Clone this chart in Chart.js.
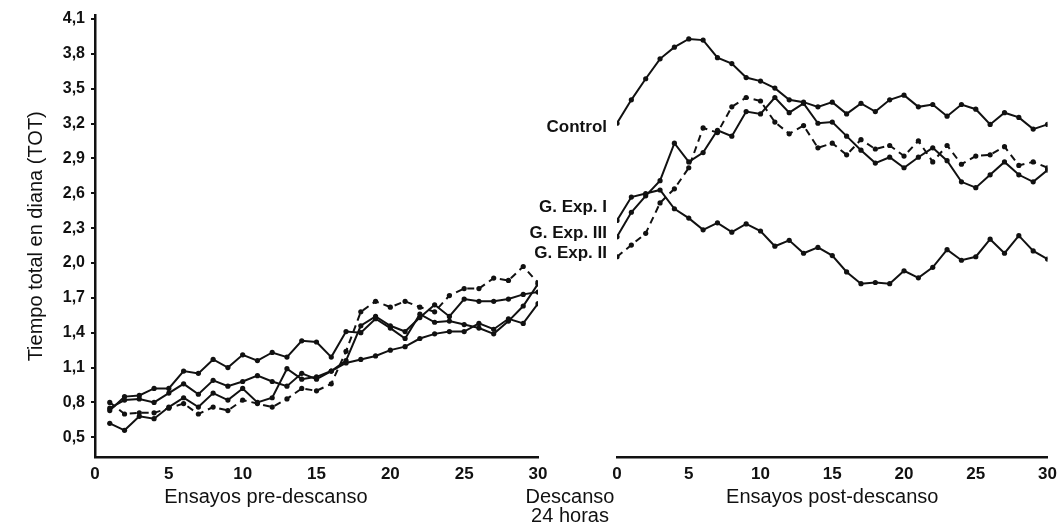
<!DOCTYPE html>
<html>
<head>
<meta charset="utf-8">
<script src="https://cdn.jsdelivr.net/npm/chart.js"></script>
<style>
  html, body { margin: 0; padding: 0; background: #fff; }
  #wrap { position: relative; width: 1064px; height: 530px; overflow: hidden; }
  .panel { position: absolute; top: 0; }
  #pre { left: 0; }
  #post { left: 470px; }
</style>
</head>
<body>
<div id="wrap">
  <canvas class="panel" id="pre" width="560" height="530"></canvas>
  <canvas class="panel" id="post" width="594" height="530"></canvas>
</div>
<script>
// trials (x) and axis ticks
const preTrials = [1, 2, 3, 4, 5, 6, 7, 8, 9, 10, 11, 12, 13, 14, 15, 16, 17, 18, 19, 20, 21, 22, 23, 24, 25, 26, 27, 28, 29, 30];
const postTrials = [0, 1, 2, 3, 4, 5, 6, 7, 8, 9, 10, 11, 12, 13, 14, 15, 16, 17, 18, 19, 20, 21, 22, 23, 24, 25, 26, 27, 28, 29, 30];
const xTicks = [0, 5, 10, 15, 20, 25, 30];
const yTicks = [0.5, 0.8, 1.1, 1.4, 1.7, 2.0, 2.3, 2.6, 2.9, 3.2, 3.5, 3.8, 4.1];

// TOT values, pre-rest
const preControl = [0.73, 0.85, 0.86, 0.92, 0.92, 1.07, 1.05, 1.17, 1.10, 1.21, 1.16, 1.23, 1.19, 1.33, 1.32, 1.19, 1.41, 1.40, 1.52, 1.44, 1.35, 1.56, 1.49, 1.50, 1.47, 1.44, 1.39, 1.50, 1.63, 1.82];
const preExpI = [0.75, 0.82, 0.83, 0.80, 0.88, 0.96, 0.87, 0.99, 0.94, 0.98, 1.03, 0.98, 0.94, 1.05, 1.00, 1.07, 1.16, 1.46, 1.54, 1.46, 1.41, 1.53, 1.64, 1.54, 1.69, 1.67, 1.67, 1.69, 1.73, 1.75];
const preExpII = [0.80, 0.70, 0.71, 0.71, 0.75, 0.79, 0.70, 0.76, 0.73, 0.82, 0.79, 0.76, 0.83, 0.92, 0.90, 0.96, 1.24, 1.58, 1.67, 1.62, 1.67, 1.62, 1.58, 1.72, 1.78, 1.78, 1.87, 1.85, 1.97, 1.83];
const preExpIII = [0.62, 0.56, 0.68, 0.66, 0.76, 0.84, 0.76, 0.88, 0.82, 0.92, 0.80, 0.84, 1.09, 1.00, 1.02, 1.07, 1.14, 1.17, 1.20, 1.25, 1.28, 1.35, 1.39, 1.41, 1.41, 1.48, 1.43, 1.52, 1.48, 1.65];

// TOT values, post-rest
const postControl = [3.18, 3.38, 3.56, 3.73, 3.83, 3.90, 3.89, 3.74, 3.69, 3.57, 3.54, 3.48, 3.38, 3.36, 3.32, 3.36, 3.26, 3.35, 3.28, 3.38, 3.42, 3.32, 3.34, 3.24, 3.34, 3.30, 3.17, 3.27, 3.23, 3.13, 3.17];
const postExpI = [2.35, 2.55, 2.58, 2.61, 2.45, 2.37, 2.27, 2.33, 2.25, 2.32, 2.26, 2.13, 2.18, 2.07, 2.12, 2.05, 1.91, 1.81, 1.82, 1.81, 1.92, 1.86, 1.95, 2.10, 2.01, 2.04, 2.19, 2.07, 2.22, 2.09, 2.02];
const postExpII = [2.04, 2.14, 2.24, 2.50, 2.62, 2.80, 3.14, 3.10, 3.32, 3.40, 3.37, 3.19, 3.09, 3.16, 2.97, 3.01, 2.91, 3.04, 2.96, 2.99, 2.90, 3.03, 2.85, 2.99, 2.83, 2.90, 2.91, 2.98, 2.82, 2.85, 2.80];
const postExpIII = [2.21, 2.42, 2.56, 2.69, 3.01, 2.85, 2.93, 3.12, 3.07, 3.28, 3.26, 3.40, 3.27, 3.35, 3.18, 3.19, 3.07, 2.95, 2.84, 2.89, 2.80, 2.89, 2.97, 2.86, 2.68, 2.63, 2.74, 2.85, 2.74, 2.68, 2.78];

const INK = '#111';
const FONT = "'Liberation Sans', Arial, Helvetica, sans-serif";

function toPoints(xs, ys) {
  return ys.map((v, i) => ({ x: xs[i], y: v }));
}

function makeDataset(label, xs, ys, dashed, tag) {
  return {
    label: label,
    tag: tag,
    data: toPoints(xs, ys),
    borderColor: INK,
    backgroundColor: INK,
    borderWidth: 2,
    borderDash: dashed ? [7, 5] : [],
    pointRadius: 2.6,
    pointBorderWidth: 0,
    pointBackgroundColor: INK,
    tension: 0,
    fill: false
  };
}

// free text drawn on the canvas (axis captions, series labels)
const textPlugin = {
  id: 'panelText',
  afterDraw(chart, args, opts) {
    const ctx = chart.ctx;
    const area = chart.chartArea;
    const yScale = chart.scales.y;
    ctx.save();
    ctx.fillStyle = INK;
    ctx.textBaseline = 'middle';
    (opts.items || []).forEach(t => {
      ctx.font = t.font;
      ctx.textAlign = t.align || 'center';
      ctx.fillText(t.text, t.x, t.y);
    });
    if (opts.seriesLabels) {
      chart.data.datasets.forEach(ds => {
        if (!ds.tag) return;
        const y = yScale.getPixelForValue(ds.data[0].y) + ds.tag.dy;
        ctx.font = 'bold 17px ' + FONT;
        ctx.textAlign = 'right';
        ctx.fillText(ds.tag.text, area.left - 10, y);
      });
    }
    ctx.restore();
  }
};

function yScaleOptions(show) {
  return {
    type: 'linear',
    display: show,
    min: 0.33,
    max: 4.13,
    afterBuildTicks: s => { s.ticks = yTicks.map(v => ({ value: v })); },
    ticks: {
      color: INK,
      padding: 6,
      font: { family: FONT, size: 16, weight: 'bold' },
      callback: v => v.toFixed(1).replace('.', ',')
    },
    grid: { display: true, drawOnChartArea: false, drawTicks: true, tickLength: 4, color: INK, lineWidth: 2 },
    border: { display: true, color: INK, width: 2.5 },
    title: {
      display: true,
      text: 'Tiempo total en diana (TOT)',
      color: INK,
      font: { family: FONT, size: 20 },
      padding: { top: 24, bottom: 0 }
    },
    afterFit: s => { s.width = show ? 95 : 0; }
  };
}

function xScaleOptions(title) {
  return {
    type: 'linear',
    min: 0,
    max: 30,
    afterBuildTicks: s => { s.ticks = xTicks.map(v => ({ value: v })); },
    ticks: { color: INK, padding: 7, font: { family: FONT, size: 17, weight: 'bold' } },
    grid: { display: false, drawTicks: false },
    border: { display: true, color: INK, width: 2.5 },
    title: title ? {
      display: true,
      text: title,
      color: INK,
      font: { family: FONT, size: 20 },
      padding: { top: 0, bottom: 21 }
    } : { display: false },
    afterFit: s => { s.height = 73; }
  };
}

const baseOptions = {
  responsive: false,
  animation: false,
  plugins: { legend: { display: false }, tooltip: { enabled: false } }
};

new Chart(document.getElementById('pre'), {
  type: 'line',
  data: {
    datasets: [
      makeDataset('Control', preTrials, preControl, false),
      makeDataset('G. Exp. I', preTrials, preExpI, false),
      makeDataset('G. Exp. III', preTrials, preExpIII, false),
      makeDataset('G. Exp. II', preTrials, preExpII, true)
    ]
  },
  options: {
    ...baseOptions,
    layout: { padding: { top: 12, right: 22, left: 0, bottom: 0 } },
    scales: { x: xScaleOptions(null), y: yScaleOptions(true) },
    plugins: {
      ...baseOptions.plugins,
      panelText: {
        items: [
          { text: 'Ensayos pre-descanso', x: 266, y: 497, font: '20px ' + FONT }
        ]
      }
    }
  },
  plugins: [textPlugin]
});

new Chart(document.getElementById('post'), {
  type: 'line',
  data: {
    datasets: [
      makeDataset('Control', postTrials, postControl, false, { text: 'Control', dy: 4 }),
      makeDataset('G. Exp. I', postTrials, postExpI, false, { text: 'G. Exp. I', dy: -13 }),
      makeDataset('G. Exp. III', postTrials, postExpIII, false, { text: 'G. Exp. III', dy: -4 }),
      makeDataset('G. Exp. II', postTrials, postExpII, true, { text: 'G. Exp. II', dy: -3 })
    ]
  },
  options: {
    ...baseOptions,
    layout: { padding: { top: 12, right: 14, left: 147, bottom: 0 } },
    scales: { x: xScaleOptions('Ensayos post-descanso'), y: yScaleOptions(false) },
    plugins: {
      ...baseOptions.plugins,
      panelText: {
        seriesLabels: true,
        items: [
          { text: 'Descanso', x: 100, y: 497, font: '20px ' + FONT },
          { text: '24 horas', x: 100, y: 516, font: '20px ' + FONT }
        ]
      }
    }
  },
  plugins: [textPlugin]
});
</script>
</body>
</html>
